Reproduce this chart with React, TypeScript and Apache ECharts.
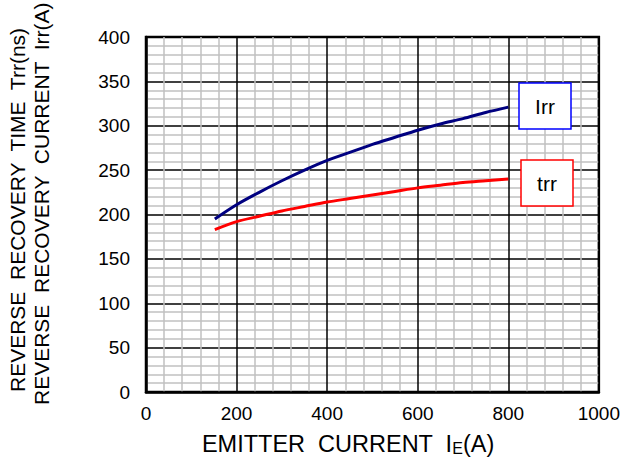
import React, { useEffect, useRef } from "react";
import * as echarts from "echarts";

const emitterCurrent = [152, 200, 250, 300, 350, 400, 450, 500, 550, 600, 650, 700, 750, 800];
const irrValues = [195, 211, 225, 238, 250, 261, 270, 279, 287, 295, 302, 308, 315, 321];
const trrValues = [183, 192, 198, 204, 209, 214, 218, 222, 226, 230, 233, 236, 238, 240];
const xTicks = [0, 200, 400, 600, 800, 1000];

const FONT = "'Liberation Sans', Arial, sans-serif";

export default function App() {
  const ref = useRef<HTMLDivElement>(null);
  useEffect(() => {
    if (!ref.current) return;
    const chart = echarts.init(ref.current, null, { renderer: "svg" });
    const irr = emitterCurrent.map((x, i) => [x, irrValues[i]]);
    const trr = emitterCurrent.map((x, i) => [x, trrValues[i]]);
    chart.setOption({
      animation: false,
      backgroundColor: "#ffffff",
      grid: {
        left: 146,
        top: 37,
        width: 456,
        height: 355,
        show: true,
        borderColor: "#000",
        borderWidth: 2.5,
        backgroundColor: "transparent",
      },
      xAxis: {
        type: "value",
        min: xTicks[0],
        max: xTicks[xTicks.length - 1],
        interval: 200,
        axisLine: { show: true, lineStyle: { color: "#000", width: 2.5 } },
        axisTick: { show: false },
        axisLabel: {
          color: "#000",
          fontSize: 19,
          fontFamily: FONT,
          margin: 12,
          formatter: (v: number) => String(v),
        },
        splitLine: { show: true, lineStyle: { color: "#000", width: 1.5 } },
        minorTick: { show: false, splitNumber: 5 },
        minorSplitLine: { show: true, lineStyle: { color: "#c0c0c0", width: 1.5 } },
      },
      yAxis: {
        type: "value",
        min: 0,
        max: 400,
        interval: 50,
        axisLine: { show: true, lineStyle: { color: "#000", width: 2.5 } },
        axisTick: { show: false },
        axisLabel: { color: "#000", fontSize: 19, fontFamily: FONT, margin: 16 },
        splitLine: { show: true, lineStyle: { color: "#000", width: 1.5 } },
        minorTick: { show: false, splitNumber: 5 },
        minorSplitLine: { show: true, lineStyle: { color: "#c0c0c0", width: 1.5 } },
      },
      series: [
        {
          name: "Irr",
          type: "line",
          data: irr,
          smooth: 0.3,
          showSymbol: false,
          lineStyle: { color: "#000080", width: 3 },
          z: 5,
        },
        {
          name: "trr",
          type: "line",
          data: trr,
          smooth: 0.3,
          showSymbol: false,
          lineStyle: { color: "#ff0000", width: 3 },
          z: 5,
        },
      ],
      graphic: [
        {
          type: "rect",
          z: 100,
          shape: { x: 519, y: 83, width: 52, height: 46 },
          style: { fill: "#fff", stroke: "#0000ff", lineWidth: 1.5 },
        },
        {
          type: "text",
          z: 101,
          x: 545,
          y: 106,
          style: { text: "Irr", fontSize: 21, fontFamily: FONT, fill: "#000", align: "center", verticalAlign: "middle" },
        },
        {
          type: "rect",
          z: 100,
          shape: { x: 521, y: 160, width: 52, height: 46 },
          style: { fill: "#fff", stroke: "#ff0000", lineWidth: 1.5 },
        },
        {
          type: "text",
          z: 101,
          x: 547,
          y: 183,
          style: { text: "trr", fontSize: 21, fontFamily: FONT, fill: "#000", align: "center", verticalAlign: "middle" },
        },
        {
          type: "text",
          z: 101,
          x: 17.5,
          y: 392,
          rotation: Math.PI / 2,
          style: { text: "REVERSE  RECOVERY  TIME  Trr(ns)", fontSize: 21, fontFamily: FONT, fill: "#000", align: "left", verticalAlign: "middle" },
        },
        {
          type: "text",
          z: 101,
          x: 41.5,
          y: 405,
          rotation: Math.PI / 2,
          style: { text: "REVERSE  RECOVERY  CURRENT  Irr(A)", fontSize: 21, fontFamily: FONT, fill: "#000", align: "left", verticalAlign: "middle" },
        },
        {
          type: "text",
          z: 101,
          x: 348,
          y: 444,
          style: {
            text: "EMITTER  CURRENT  I{sub|E}(A)",
            fontSize: 23.5,
            fontFamily: FONT,
            fill: "#000",
            align: "center",
            verticalAlign: "middle",
            rich: {
              sub: { fontSize: 16, fontFamily: FONT, fill: "#000", verticalAlign: "bottom", padding: [9, 0, 0, 0] },
            },
          },
        },
      ],
    });
    return () => chart.dispose();
  }, []);
  return <div ref={ref} style={{ position: "fixed", left: 0, top: 0, width: 623, height: 459 }} />;
}
